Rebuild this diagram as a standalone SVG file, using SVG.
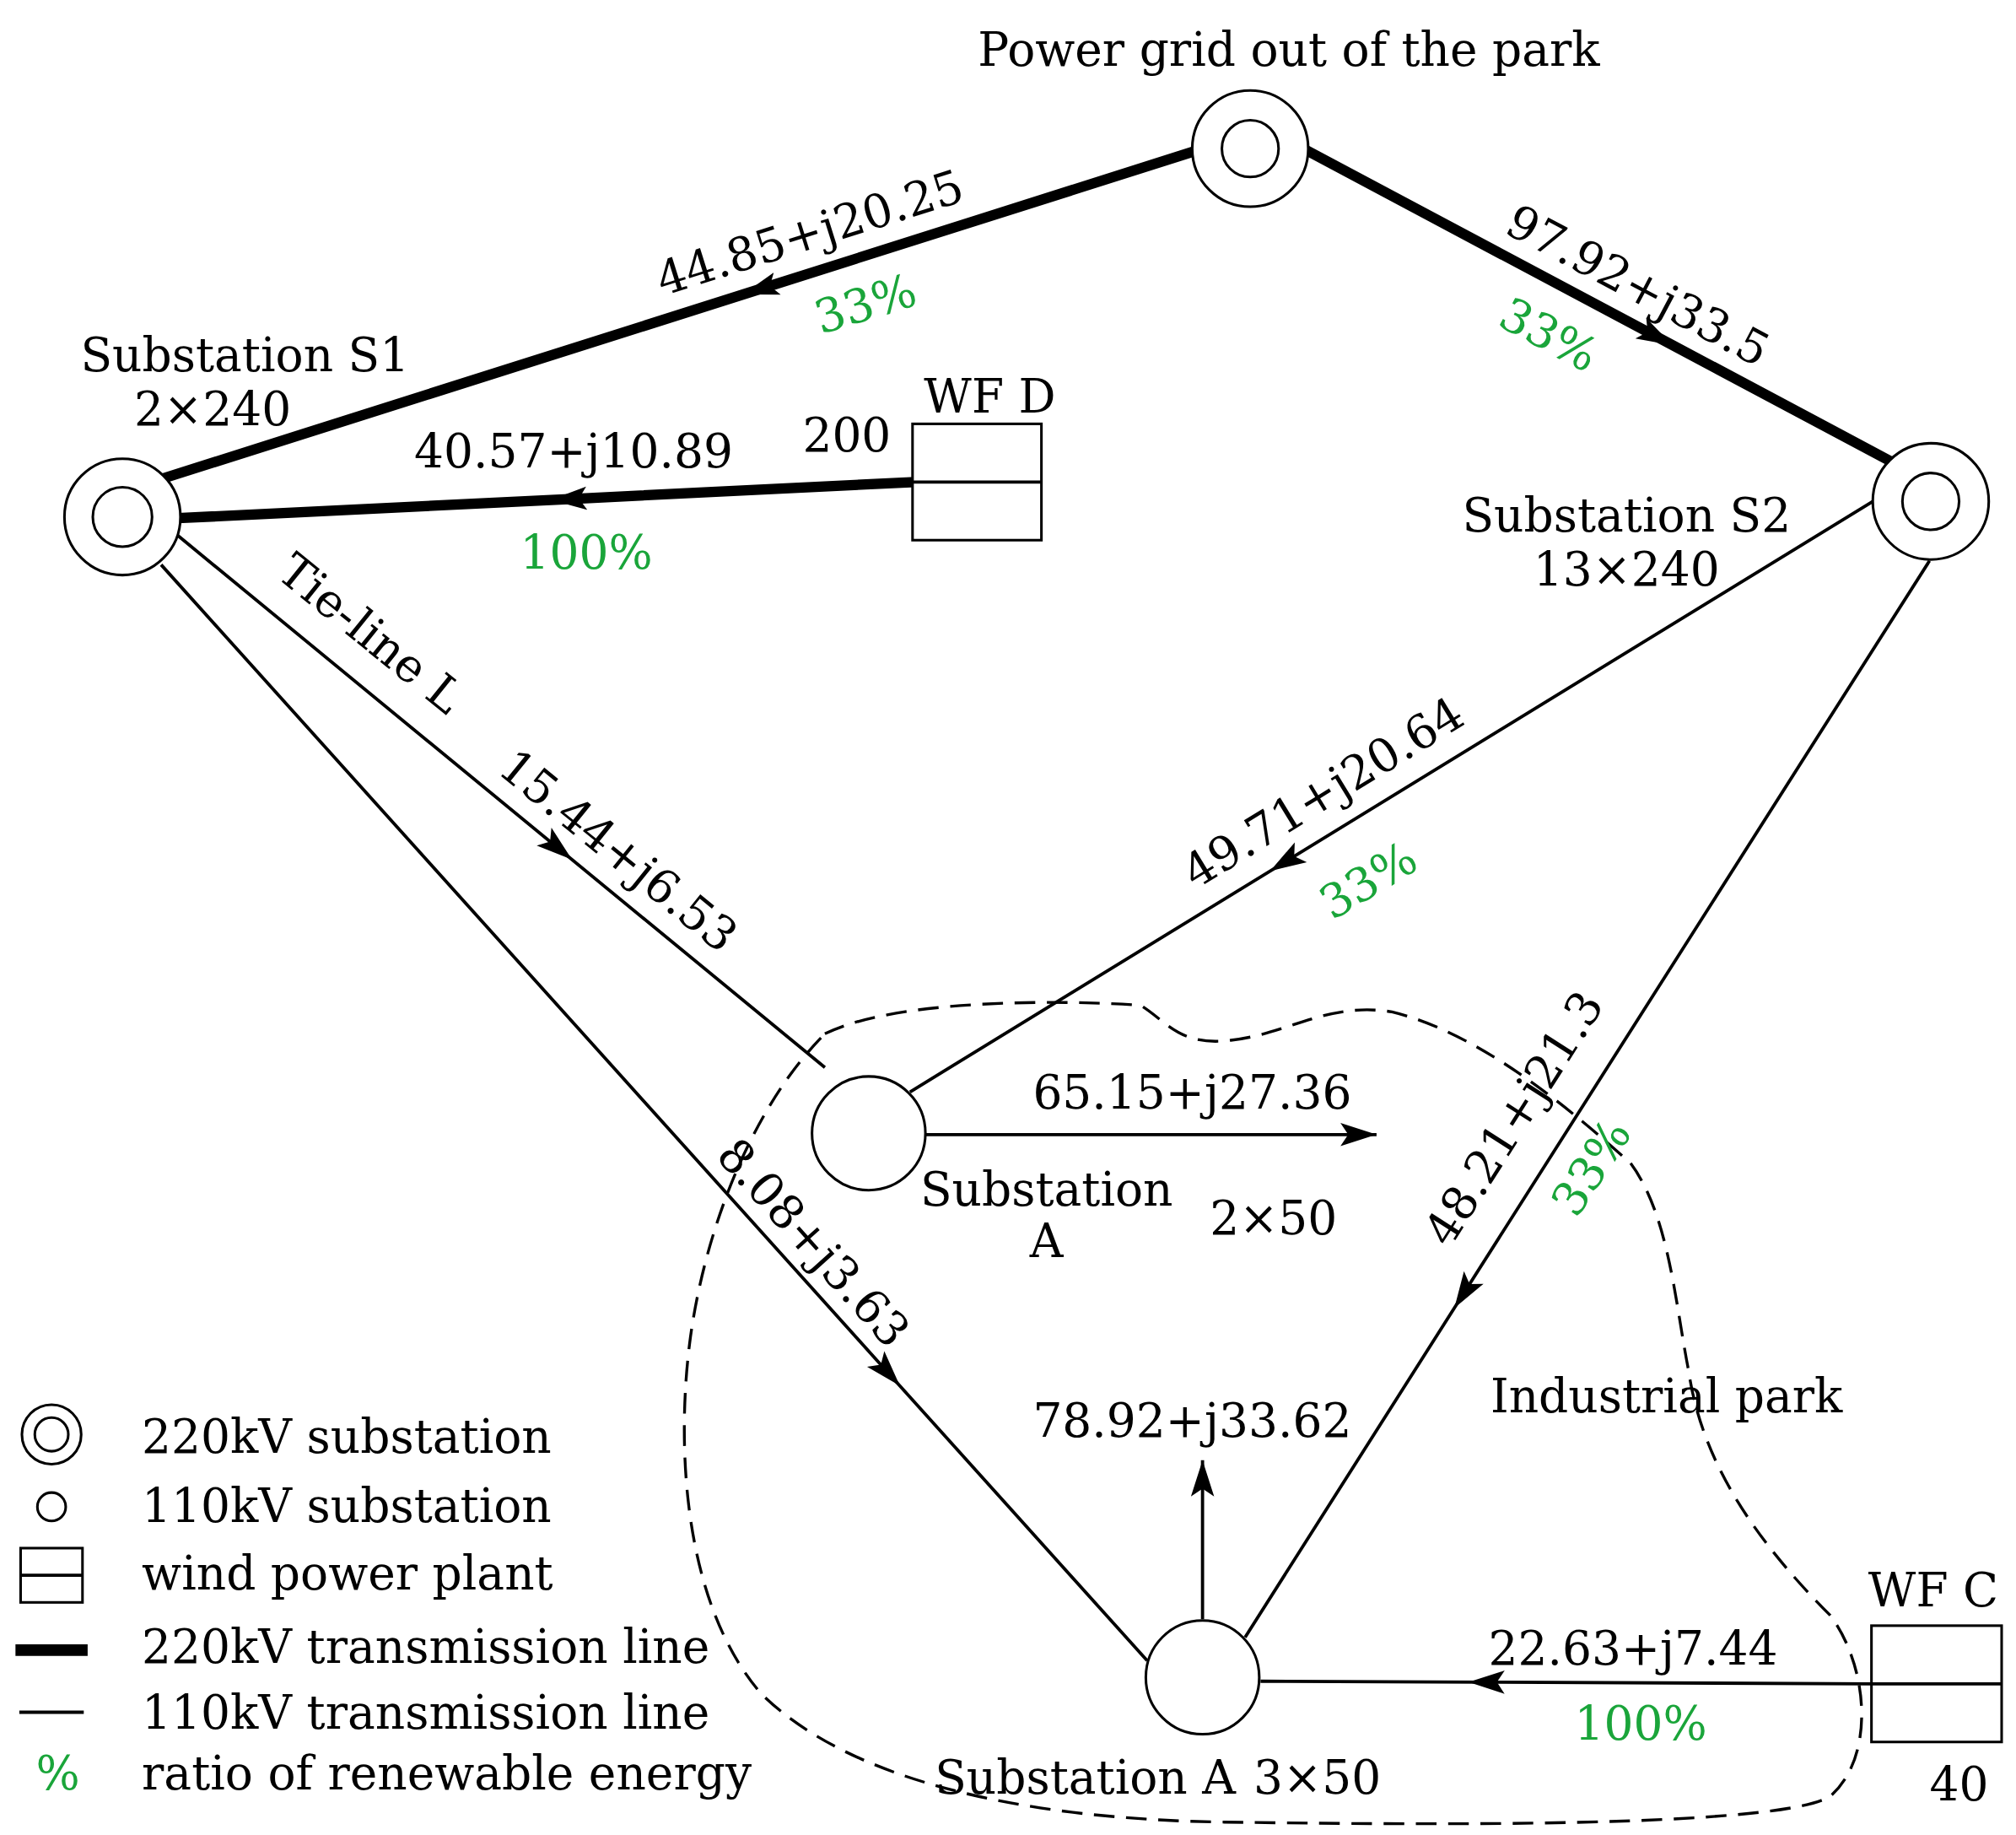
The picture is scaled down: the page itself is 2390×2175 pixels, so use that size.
<svg xmlns="http://www.w3.org/2000/svg" width="2390" height="2175" viewBox="0 0 2390 2175">
<defs>
<marker id="ah" markerUnits="userSpaceOnUse" markerWidth="28" markerHeight="20" refX="14" refY="10" orient="auto" viewBox="0 0 28 20"><path d="M0,1 L28,10 L0,19 L6,10 z" fill="#000"/></marker>
<style>
text{font-family:"DejaVu Serif","Liberation Serif",serif;font-size:36px;fill:#000;text-anchor:middle}
.g{fill:#1aa53a}
.l{text-anchor:start}
.thick{stroke:#000;stroke-width:8;fill:none;stroke-linecap:round}
.thin{stroke:#000;stroke-width:2.5;fill:none}
.node{fill:#fff;stroke:#000;stroke-width:2}
</style>
</defs>
<rect width="2390" height="2175" fill="#fff"/>
<g transform="scale(1.528,1.5317)">
<g id="boundary"><path d="M640,800 C700,770 850,775 885,778 C905,790 915,810 955,805 C1000,800 1030,775 1080,783 C1150,800 1220,860 1265,900 C1295,940 1300,1010 1310,1060 C1320,1130 1360,1190 1420,1250 C1450,1290 1455,1360 1420,1390 C1380,1415 1100,1412 950,1410 C800,1408 660,1380 590,1310 C530,1240 525,1120 535,1040 C545,960 580,860 640,800 Z" fill="none" stroke="#000" stroke-width="2.2" stroke-dasharray="16,9"/></g>
<g id="connectors">
<path class="thick" d="M927,117 L589.7,223.7 L124,371" marker-mid="url(#ah)"/>
<path class="thick" d="M1013,116 L1285.4,260.6 L1467,357" marker-mid="url(#ah)"/>
<path class="thick" d="M710,373 L441.2,386.2 L138,401" marker-mid="url(#ah)"/>
<path class="thin" d="M135,412 L432.95,656.3 L640,826" marker-mid="url(#ah)"/>
<path class="thin" d="M125,437 L688.8,1062 L890,1285" marker-mid="url(#ah)"/>
<path class="thin" d="M1453,388 L997.3,666.8 L706,845" marker-mid="url(#ah)"/>
<path class="thin" d="M1497,434 L1135.9,1000.4 L966,1267" marker-mid="url(#ah)"/>
<path class="thin" d="M718,878 L1054,878 L1068,878" marker-mid="url(#ah)"/>
<path class="thin" d="M933,1253 L933,1144 L933,1130" marker-mid="url(#ah)"/>
<path class="thin" d="M1452,1303 L1153.4,1301.7 L978,1301" marker-mid="url(#ah)"/>
</g>
<g id="grid"><circle class="node" cx="970" cy="115" r="45"/><circle class="node" cx="970" cy="115" r="22"/><text x="1000" y="51">Power grid out of the park</text></g>
<g id="S1"><circle class="node" cx="95" cy="400" r="45"/><circle class="node" cx="95" cy="400" r="23"/><text x="190" y="287">Substation S1</text><text x="165" y="329">2×240</text></g>
<g id="S2"><circle class="node" cx="1498" cy="388" r="45"/><circle class="node" cx="1498" cy="388" r="22"/><text x="1262" y="411">Substation S2</text><text x="1262" y="453">13×240</text></g>
<g id="SubA"><circle class="node" cx="674" cy="877" r="44"/><text x="812" y="933">Substation</text><text x="812" y="973">A</text><text x="988" y="955">2×50</text></g>
<g id="SubA3"><circle class="node" cx="933" cy="1298" r="44"/><text x="842" y="1388">Substation A</text><text x="1022" y="1388">3×50</text></g>
<g id="WFD"><rect class="node" x="708" y="328" width="100" height="90"/><line class="thin" x1="708" y1="373" x2="808" y2="373"/><text x="768" y="319">WF D</text><text x="657" y="349">200</text></g>
<g id="WFC"><rect class="node" x="1452" y="1258" width="101" height="90"/><line class="thin" x1="1452" y1="1303" x2="1553" y2="1303"/><text x="1500" y="1243">WF C</text><text x="1520" y="1393">40</text></g>
<g id="labels">
<text transform="translate(632,192) rotate(-17.5)">44.85+j20.25</text>
<text class="g" transform="translate(675,247) rotate(-17)">33%</text>
<text transform="translate(1265,232) rotate(28)">97.92+j33.5</text>
<text class="g" transform="translate(1196,270) rotate(28)">33%</text>
<text x="445" y="362">40.57+j10.89</text>
<text class="g" x="455" y="440">100%</text>
<text transform="translate(280,500) rotate(39)">Tie-line L</text>
<text transform="translate(472,668) rotate(39)">15.44+j6.53</text>
<text transform="translate(1033,624) rotate(-31.5)">49.71+j20.64</text>
<text class="g" transform="translate(1068,692) rotate(-31)">33%</text>
<text transform="translate(622,970) rotate(48)">8.08+j3.63</text>
<text transform="translate(1185,872) rotate(-57.5)">48.21+j21.3</text>
<text class="g" transform="translate(1245,910) rotate(-57)">33%</text>
<text x="925" y="858">65.15+j27.36</text>
<text x="925" y="1112">78.92+j33.62</text>
<text x="1293" y="1093">Industrial park</text>
<text x="1267" y="1288">22.63+j7.44</text>
<text class="g" x="1273" y="1346">100%</text>
</g>
<g id="legend">
<circle class="node" cx="40" cy="1110" r="23"/><circle class="node" cx="40" cy="1110" r="13"/>
<circle class="node" cx="40" cy="1166" r="11"/>
<rect class="node" x="16" y="1198" width="48" height="42"/><line class="thin" x1="16" y1="1219" x2="64" y2="1219"/>
<line x1="12" y1="1277" x2="68" y2="1277" stroke="#000" stroke-width="9"/>
<line class="thin" x1="15" y1="1325" x2="65" y2="1325"/>
<text class="g" x="45" y="1385">%</text>
<text class="l" x="110" y="1124">220kV substation</text>
<text class="l" x="110" y="1178">110kV substation</text>
<text class="l" x="110" y="1230">wind power plant</text>
<text class="l" x="110" y="1287">220kV transmission line</text>
<text class="l" x="110" y="1338">110kV transmission line</text>
<text class="l" x="110" y="1385">ratio of renewable energy</text>
</g>
</g>
</svg>
